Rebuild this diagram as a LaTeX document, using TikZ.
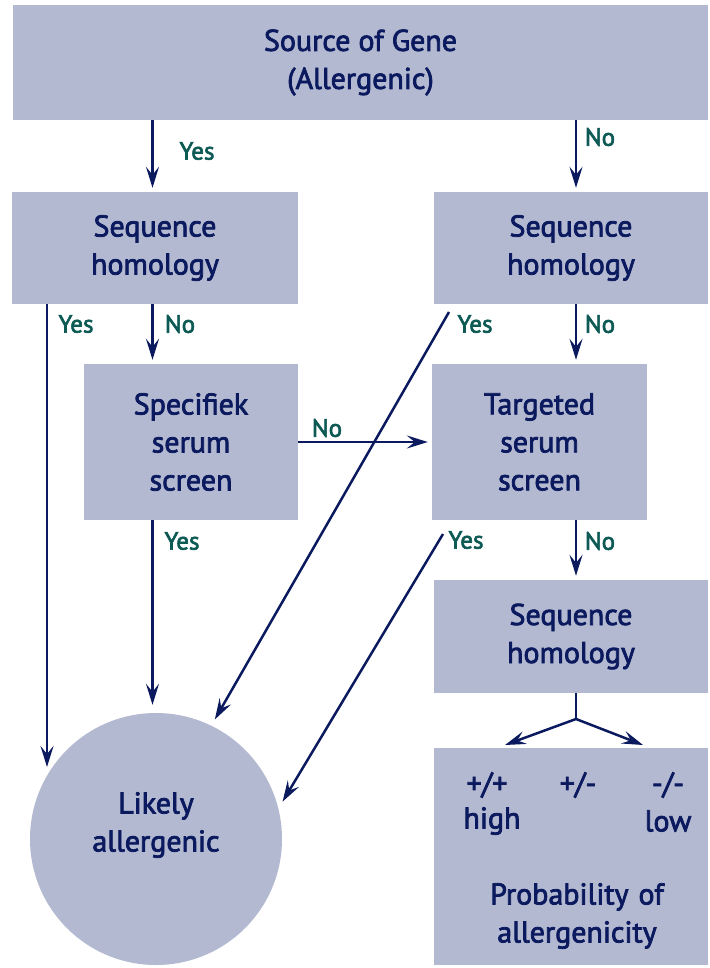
\documentclass[tikz,border=0pt]{standalone}
\usepackage{fontspec}
\setmainfont{PT Sans}[FakeBold=2.5]
\usetikzlibrary{arrows.meta,calc}
\definecolor{boxfill}{HTML}{B3B9D1}
\definecolor{navy}{HTML}{0B1A5E}
\definecolor{teal}{HTML}{0D5A55}
\begin{document}
\begin{tikzpicture}[x=1pt,y=-1pt,
  box/.style={fill=boxfill,draw=none,inner sep=0pt,align=center,text=navy,
    font=\fontsize{30}{38}\selectfont},
  arr/.style={draw=navy,line width=2.5pt,-{Stealth[length=21pt,width=13pt,inset=8pt]}},
  ln/.style={draw=navy,line width=2.5pt},
  lab/.style={text=teal,font=\fontsize{25}{28}\selectfont,inner sep=0pt},
  val/.style={text=navy,font=\fontsize{30}{38}\selectfont,inner sep=0pt}]
\useasboundingbox (0,0) rectangle (709,968);

% boxes
\node[box,minimum width=695,minimum height=115] (top) at (360.5,62.5) {Source of Gene\\(Allergenic)};
\node[box,minimum width=286,minimum height=112] (seqL) at (155,248) {Sequence\\homology};
\node[box,minimum width=274,minimum height=112] (seqR) at (571,248) {Sequence\\homology};
\node[box,minimum width=214,minimum height=156] (spec) at (191,442) {Specifiek\\serum\\screen};
\node[box,minimum width=215,minimum height=156] (targ) at (539.5,442) {Targeted\\serum\\screen};
\node[box,minimum width=274,minimum height=113] (seqB) at (571,636.5) {Sequence\\homology};
\node[box,minimum width=274,minimum height=217] (prob) at (571,856.5) {};
\node[circle,fill=boxfill,minimum size=252,inner sep=0pt] (like) at (156,839) {};
\node[val,align=center] (liketxt) at (156,825) {Likely\\allergenic};

% texts in the probability box
\node[val] (pp) at (487,785) {+/+};
\node[val] (pm) at (578,785) {+/-};
\node[val] (mm) at (668,785) {-/-};
\node[val] (hi) at (492,821) {high};
\node[val] (lo) at (668,821) {low};
\node[val,align=center,text width=270] (pt) at (577,916) {Probability of\\allergenicity};

% connector columns and free ends
\coordinate (xa) at (47,0);
\coordinate (xb) at (152.5,0);
\coordinate (xc) at (576,0);
\coordinate (ya) at (0,767);
\coordinate (dA) at (449,312);
\coordinate (dB) at (443,534);
\coordinate (fork) at (576,719);
\coordinate (tipL) at (505,745);
\coordinate (tipR) at (643,745);

\draw[arr,shorten >=4pt] (top.south -| xb) -- (seqL.north -| xb);
\draw[arr,shorten >=4pt] (top.south -| xc) -- (seqR.north -| xc);
\draw[arr] (seqL.south -| xa) -- (xa |- ya);
\draw[arr,shorten >=4pt] (seqL.south -| xb) -- (spec.north -| xb);
\draw[arr,shorten >=4pt] (seqR.south -| xc) -- (targ.north -| xc);
\draw[arr,shorten >=4pt] (spec.east |- targ.west) -- (targ.west);
\draw[arr,shorten >=8pt] (spec.south -| xb) -- (like.north -| xb);
\draw[arr,shorten >=7pt] (dA) -- (like.64);
\draw[arr,shorten >=8pt] (dB) -- (like.14);
\draw[arr,shorten >=4pt] (targ.south -| xc) -- (seqB.north -| xc);
\draw[ln] (seqB.south -| xc) -- (fork);
\draw[arr] (fork) -- (tipL);
\draw[arr] (fork) -- (tipR);

% labels
\node[lab] (l1) at (197,151) {Yes};
\node[lab] (l2) at (600,137) {No};
\node[lab] (l3) at (76,324) {Yes};
\node[lab] (l4) at (180,324) {No};
\node[lab] (l5) at (475,324) {Yes};
\node[lab] (l6) at (600,324) {No};
\node[lab] (l7) at (327,428) {No};
\node[lab] (l8) at (182,541) {Yes};
\node[lab] (l9) at (466,540) {Yes};
\node[lab] (l10) at (600,541) {No};
\end{tikzpicture}
\end{document}
